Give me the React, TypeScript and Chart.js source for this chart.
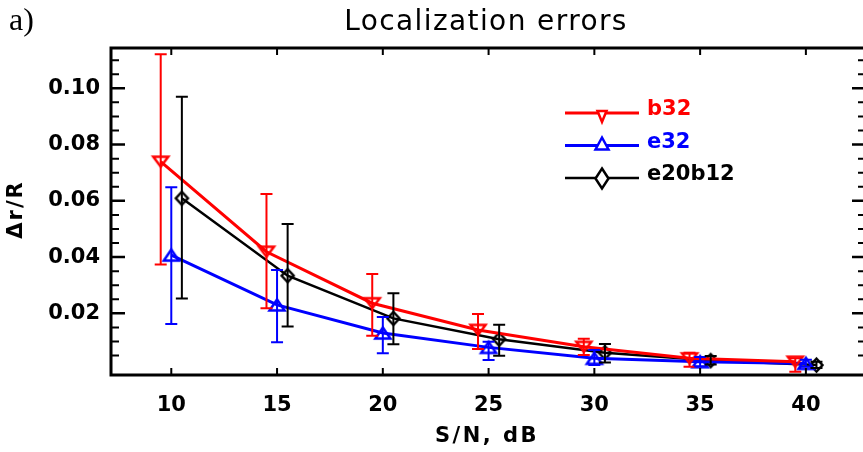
import React, { useEffect, useRef } from 'react';
import { Chart, registerables } from 'chart.js';

Chart.register(...registerables);

// ---- data ----
const snr = [10, 15, 20, 25, 30, 35, 40];
const xTickValues = [10, 15, 20, 25, 30, 35, 40];
const yTickValues = [0.02, 0.04, 0.06, 0.08, 0.1];
const seriesNames = ['b32', 'e32', 'e20b12'];
const seriesColors = ['#ff0000', '#0000ff', '#000000'];
const seriesOffsets = [-0.5, 0, 0.5];

const b32 = [0.0739, 0.0419, 0.0236, 0.0141, 0.0081, 0.004, 0.0028];
const b32Lo = [0.0374, 0.0218, 0.012, 0.0073, 0.0052, 0.001, -0.0008];
const b32Hi = [0.1121, 0.0624, 0.034, 0.0198, 0.011, 0.006, 0.004];

const e32 = [0.0407, 0.023, 0.013, 0.0079, 0.004, 0.0028, 0.0022];
const e32Lo = [0.0162, 0.0097, 0.0058, 0.0034, 0.0016, 0.0012, 0.001];
const e32Hi = [0.0648, 0.0354, 0.0187, 0.0099, 0.007, 0.0045, 0.0035];

const e20b12 = [0.0609, 0.0334, 0.0182, 0.0108, 0.006, 0.0032, 0.0016];
const e20b12Lo = [0.0253, 0.0153, 0.009, 0.0049, 0.0025, 0.0018, 0.0006];
const e20b12Hi = [0.097, 0.0518, 0.0271, 0.0159, 0.0091, 0.0048, 0.0028];

const values = [b32, e32, e20b12];
const lows = [b32Lo, e32Lo, e20b12Lo];
const highs = [b32Hi, e32Hi, e20b12Hi];

const FONT = 'DejaVu Sans';

type Shape = 'down' | 'up' | 'diamond';
const shapes: Shape[] = ['down', 'up', 'diamond'];

function markerPath(ctx: CanvasRenderingContext2D, shape: Shape, cx: number, cy: number, w: number, h: number) {
  ctx.beginPath();
  if (shape === 'down') {
    ctx.moveTo(cx - w / 2, cy - h / 2);
    ctx.lineTo(cx + w / 2, cy - h / 2);
    ctx.lineTo(cx, cy + h / 2);
  } else if (shape === 'up') {
    ctx.moveTo(cx - w / 2, cy + h / 2);
    ctx.lineTo(cx + w / 2, cy + h / 2);
    ctx.lineTo(cx, cy - h / 2);
  } else {
    ctx.moveTo(cx, cy - h / 2);
    ctx.lineTo(cx + w / 2, cy);
    ctx.lineTo(cx, cy + h / 2);
    ctx.lineTo(cx - w / 2, cy);
  }
  ctx.closePath();
}

function makeMarker(shape: Shape, color: string, w: number, h: number, lw: number) {
  const c = document.createElement('canvas');
  c.width = Math.ceil(w + lw * 2 + 2);
  c.height = Math.ceil(h + lw * 2 + 2);
  const g = c.getContext('2d')!;
  g.strokeStyle = color;
  g.lineWidth = lw;
  g.lineJoin = 'miter';
  markerPath(g, shape, c.width / 2, c.height / 2, w, h);
  g.stroke();
  return c;
}

const idlPlugin = {
  id: 'idlFrame',
  afterDatasetsDraw(chart: any) {
    const { ctx, chartArea: a, scales } = chart;
    const xs = scales.x;
    const ys = scales.y;
    ctx.save();
    ctx.beginPath();
    ctx.rect(a.left, a.top, a.right - a.left, a.bottom - a.top);
    ctx.clip();
    for (let i = 0; i < values.length; i++) {
      ctx.strokeStyle = seriesColors[i];
      ctx.lineWidth = 2;
      for (let j = 0; j < snr.length; j++) {
        const px = xs.getPixelForValue(snr[j] + seriesOffsets[i]);
        const y1 = ys.getPixelForValue(lows[i][j]);
        const y2 = ys.getPixelForValue(highs[i][j]);
        const cap = 6;
        ctx.beginPath();
        ctx.moveTo(px, y1);
        ctx.lineTo(px, y2);
        ctx.moveTo(px - cap, y1);
        ctx.lineTo(px + cap, y1);
        ctx.moveTo(px - cap, y2);
        ctx.lineTo(px + cap, y2);
        ctx.stroke();
      }
    }
    ctx.restore();
  },
  afterDraw(chart: any) {
    const { ctx, chartArea: a, scales } = chart;
    const xs = scales.x;
    const ys = scales.y;
    // the frame's right side sits just past the picture edge
    const rightEdge = a.right + 3;
    ctx.save();
    ctx.strokeStyle = '#000';
    ctx.fillStyle = '#000';
    // frame
    ctx.lineWidth = 3;
    ctx.beginPath();
    ctx.moveTo(rightEdge, a.top);
    ctx.lineTo(a.left, a.top);
    ctx.lineTo(a.left, a.bottom);
    ctx.lineTo(rightEdge, a.bottom);
    ctx.stroke();
    // y ticks (major + minor), both sides, inward
    for (let k = 1; k <= 22; k++) {
      const v = k * 0.005;
      const py = ys.getPixelForValue(v);
      const major = k % 4 === 0;
      const len = major ? 14 : 8;
      ctx.lineWidth = major ? 2.5 : 2;
      ctx.beginPath();
      ctx.moveTo(a.left, py);
      ctx.lineTo(a.left + len, py);
      ctx.moveTo(rightEdge, py);
      ctx.lineTo(rightEdge - len, py);
      ctx.stroke();
    }
    // x ticks
    ctx.lineWidth = 2;
    for (const v of xTickValues) {
      const px = xs.getPixelForValue(v);
      ctx.beginPath();
      ctx.moveTo(px, a.bottom);
      ctx.lineTo(px, a.bottom - 7);
      ctx.moveTo(px, a.top);
      ctx.lineTo(px, a.top + 7);
      ctx.stroke();
    }
    // title
    (ctx as any).letterSpacing = '1.4px';
    ctx.font = `28px "${FONT}"`;
    ctx.textAlign = 'center';
    ctx.textBaseline = 'alphabetic';
    ctx.fillText('Localization errors', 486, 30);
    // x axis title
    (ctx as any).letterSpacing = '2.5px';
    ctx.font = `bold 21px "${FONT}"`;
    ctx.fillText('S/N, dB', 487, 442);
    // y axis title
    ctx.save();
    ctx.translate(22, (a.top + a.bottom) / 2);
    ctx.rotate(-Math.PI / 2);
    (ctx as any).letterSpacing = '2px';
    ctx.fillText('\u0394r/R', 2, 0);
    ctx.restore();
    // panel label
    (ctx as any).letterSpacing = '0px';
    ctx.font = '32px "Liberation Serif"';
    ctx.textAlign = 'left';
    ctx.fillText('a)', 9, 30);
    // legend
    const legY = [113, 145.5, 178];
    const legMarker = [
      [9, 11],
      [13, 12],
      [13, 20],
    ];
    const legLw = [3, 3, 2.5];
    ctx.font = `bold 21px "${FONT}"`;
    for (let i = 0; i < seriesNames.length; i++) {
      const y = legY[i];
      ctx.strokeStyle = seriesColors[i];
      ctx.fillStyle = seriesColors[i];
      ctx.lineWidth = legLw[i];
      ctx.beginPath();
      ctx.moveTo(565, y);
      ctx.lineTo(639, y);
      ctx.stroke();
      ctx.lineWidth = 2.5;
      const [mw, mh] = legMarker[i];
      const cy = shapes[i] === 'down' ? y + 3.5 : shapes[i] === 'up' ? y - 2 : y + 0.5;
      markerPath(ctx, shapes[i], 602, cy, mw, mh);
      ctx.fillStyle = '#fff';
      ctx.fill();
      ctx.stroke();
      ctx.fillStyle = seriesColors[i];
      ctx.textAlign = 'left';
      ctx.fillText(seriesNames[i], 647, y + 2);
    }
    ctx.restore();
  },
};

export default function App() {
  const ref = useRef<HTMLCanvasElement>(null);
  useEffect(() => {
    const markerImgs = [
      makeMarker('down', seriesColors[0], 15, 10, 2.5),
      makeMarker('up', seriesColors[1], 15, 11, 2.5),
      makeMarker('diamond', seriesColors[2], 12, 13, 2.5),
    ];
    const lineWidths = [3, 3, 2.5];
    const datasets = values.map((vals, i) => ({
      label: seriesNames[i],
      data: snr.map((s, j) => ({ x: s + seriesOffsets[i], y: vals[j] })),
      borderColor: seriesColors[i],
      backgroundColor: seriesColors[i],
      borderWidth: lineWidths[i],
      pointStyle: markerImgs[i] as any,
      pointRadius: 8,
      tension: 0,
    }));
    const chart = new Chart(ref.current!, {
      type: 'line',
      data: { datasets },
      plugins: [idlPlugin as any],
      options: {
        animation: false,
        responsive: false,
        layout: { autoPadding: false, padding: { top: 48, right: 0, left: 0, bottom: 0 } },
        plugins: { legend: { display: false }, tooltip: { enabled: false }, title: { display: false } },
        scales: {
          x: {
            type: 'linear',
            min: 7.15,
            max: 42.7,
            grid: { display: false, drawTicks: false },
            border: { display: false },
            afterBuildTicks: (s: any) => {
              s.ticks = xTickValues.map((v) => ({ value: v }));
            },
            afterFit: (s: any) => {
              s.height = 77;
              s.paddingLeft = 0;
              s.paddingRight = 0;
            },
            ticks: {
              padding: 18,
              color: '#000',
              maxRotation: 0,
              autoSkip: false,
              font: { family: FONT, size: 21, weight: 'bold' },
              callback: (v: any) => String(v),
            },
          },
          y: {
            type: 'linear',
            min: -0.00192,
            max: 0.11433,
            grid: { display: false, drawTicks: false },
            border: { display: false },
            afterBuildTicks: (s: any) => {
              s.ticks = yTickValues.map((v) => ({ value: v }));
            },
            afterFit: (s: any) => {
              s.width = 111;
              s.paddingTop = 0;
              s.paddingBottom = 0;
            },
            ticks: {
              padding: 11,
              color: '#000',
              autoSkip: false,
              font: { family: FONT, size: 21, weight: 'bold' },
              callback: (v: any) => Number(v).toFixed(2),
            },
          },
        },
      },
    });
    return () => chart.destroy();
  }, []);
  return (
    <div style={{ position: 'absolute', left: 0, top: 0, width: 863, height: 452, background: '#fff' }}>
      <canvas ref={ref} width={863} height={452} style={{ display: 'block', width: 863, height: 452 }} />
    </div>
  );
}
